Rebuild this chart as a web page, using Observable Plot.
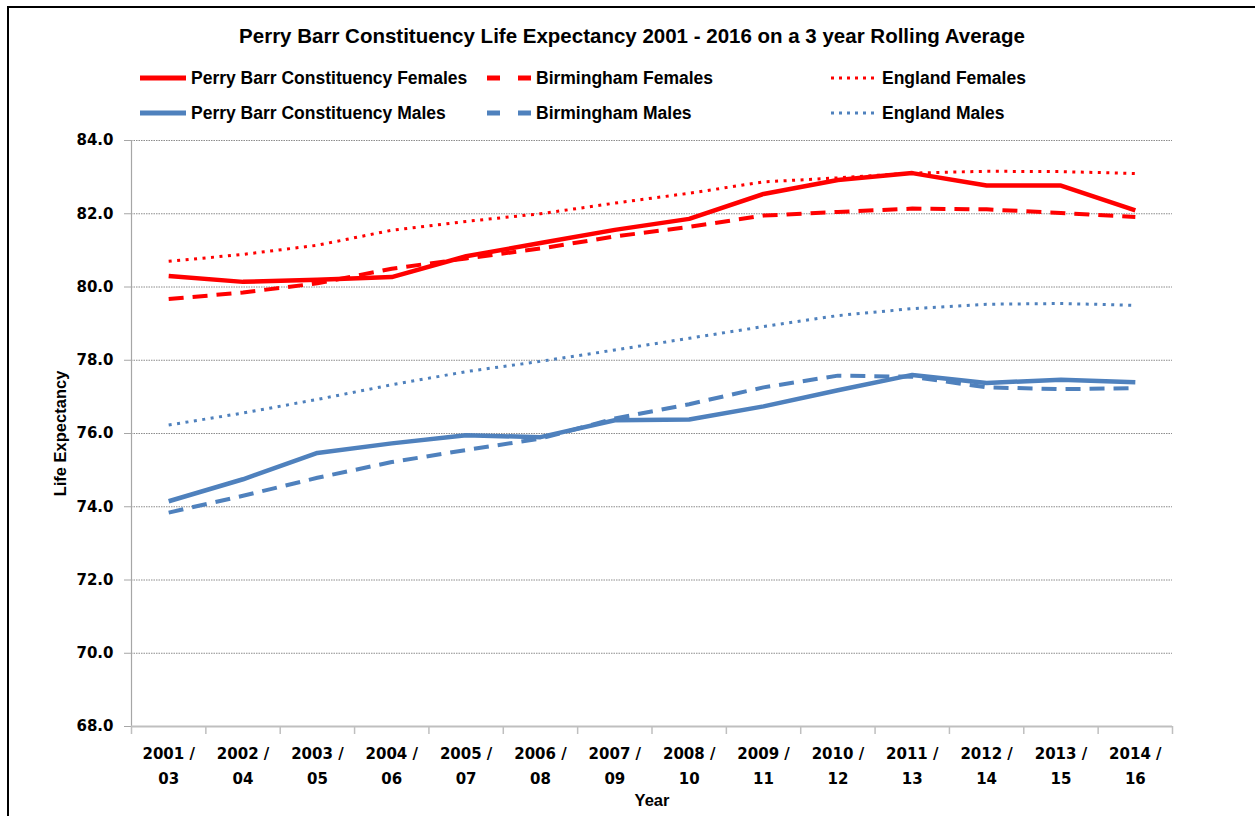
<!DOCTYPE html>
<html>
<head>
<meta charset="utf-8">
<script src="https://cdn.jsdelivr.net/npm/d3@7"></script>
<script src="https://cdn.jsdelivr.net/npm/@observablehq/plot@0.6"></script>
<style>
  html, body { margin: 0; padding: 0; width: 1255px; height: 816px; overflow: hidden; background: #fff; }
  #frame { position: absolute; left: 7px; top: 6px; width: 1300px; height: 900px; border-left: 2px solid #000; border-top: 2px solid #000; }
  #title { position: absolute; left: 0; width: 1264px; top: 24px; text-align: center; font: bold 20.5px "Liberation Sans", Arial, sans-serif; color: #000; }
  .leg { position: absolute; display: flex; align-items: center; font: bold 17.5px "Liberation Sans", Arial, sans-serif; color: #000; white-space: nowrap; }
  .leg svg { margin-right: 5px; }
  #chart { position: absolute; left: 0; top: 118px; }
</style>
</head>
<body>
<div id="frame"></div>
<div id="title">Perry Barr Constituency Life Expectancy 2001 - 2016 on a 3 year Rolling Average</div>
<div id="legend"></div>
<div id="chart"></div>
<script>
// ---- Data ----
const periods = ["2001 / 03","2002 / 04","2003 / 05","2004 / 06","2005 / 07","2006 / 08","2007 / 09",
                 "2008 / 10","2009 / 11","2010 / 12","2011 / 13","2012 / 14","2013 / 15","2014 / 16"];
const perryBarrFemales  = [80.30, 80.14, 80.20, 80.27, 80.84, 81.20, 81.56, 81.86, 82.54, 82.92, 83.11, 82.77, 82.77, 82.09];
const birminghamFemales = [79.67, 79.85, 80.10, 80.50, 80.78, 81.05, 81.38, 81.64, 81.95, 82.05, 82.14, 82.12, 82.02, 81.91];
const englandFemales    = [80.70, 80.89, 81.14, 81.55, 81.79, 82.00, 82.29, 82.56, 82.87, 82.98, 83.11, 83.16, 83.15, 83.10];
const perryBarrMales    = [74.15, 74.75, 75.47, 75.73, 75.95, 75.90, 76.36, 76.38, 76.74, 77.18, 77.60, 77.38, 77.47, 77.40];
const birminghamMales   = [73.84, 74.30, 74.79, 75.22, 75.55, 75.86, 76.41, 76.80, 77.26, 77.58, 77.55, 77.26, 77.21, 77.24];
const englandMales      = [76.23, 76.56, 76.93, 77.33, 77.69, 77.97, 78.28, 78.60, 78.92, 79.22, 79.41, 79.53, 79.55, 79.50];
const yTicks = [68, 70, 72, 74, 76, 78, 80, 82, 84];

const RED = "#FF0000", BLUE = "#4F81BD";
const SOLID = null, DASH = "15,9", DOT = "3,5.5";

const seriesList = [
  {name: "Perry Barr Constituency Females", values: perryBarrFemales, color: RED, dash: SOLID, w: 4.5},
  {name: "Birmingham Females", values: birminghamFemales, color: RED, dash: DASH, w: 4},
  {name: "England Females", values: englandFemales, color: RED, dash: DOT, w: 3},
  {name: "Perry Barr Constituency Males", values: perryBarrMales, color: BLUE, dash: SOLID, w: 4.5},
  {name: "Birmingham Males", values: birminghamMales, color: BLUE, dash: DASH, w: 4},
  {name: "England Males", values: englandMales, color: BLUE, dash: DOT, w: 3}
];

// ---- Legend (HTML) ----
const legendPos = [
  [140, 78], [487, 78], [831, 78],
  [140, 113], [487, 113], [831, 113]
];
const legend = document.getElementById("legend");
seriesList.forEach((s, k) => {
  const div = document.createElement("div");
  div.className = "leg";
  div.style.left = legendPos[k][0] + "px";
  div.style.top = (legendPos[k][1] - 10) + "px";
  div.style.height = "20px";
  const sw = s.dash === DASH ? 44 : 46;
  const dashAttr = s.dash === DASH ? 'stroke-dasharray="13,18"' : (s.dash === DOT ? 'stroke-dasharray="3,5"' : "");
  div.innerHTML = `<svg width="${sw}" height="20"><line x1="0" x2="${sw}" y1="10" y2="10" stroke="${s.color}" stroke-width="${s.dash === DOT ? 3 : 5}" ${dashAttr}/></svg><span>${s.name}</span>`;
  legend.appendChild(div);
});

// ---- Chart ----
const idx = d3.range(periods.length);
const boundaries = d3.range(-0.5, periods.length, 1);
const FONT = "Liberation Sans, Arial, sans-serif";
const TICKFONT = "DejaVu Sans, Verdana, sans-serif";

const marks = [
  Plot.gridY({ticks: yTicks, stroke: "#7f7f7f", strokeOpacity: 1, strokeDasharray: "1.5,1", strokeWidth: 0.9}),
  Plot.ruleX([-0.5], {stroke: "#a6a6a6", strokeWidth: 1.2, y1: 68, y2: 84}),
  Plot.axisY({ticks: yTicks, tickFormat: d3.format(".1f"), tickSize: 7, tickPadding: 11, stroke: "#a6a6a6", fill: "#000", fontSize: 15, fontWeight: "bold", fontFamily: TICKFONT, label: null}),
  Plot.axisX({ticks: boundaries, tickSize: 8, tickFormat: () => "", stroke: "#bfbfbf", strokeWidth: 1.5, label: null}),
  Plot.axisX({ticks: idx, tickSize: 0, tickPadding: 15, tickFormat: i => periods[i].replace(" / ", " /\n"), lineHeight: 1.65, fill: "#000", fontSize: 15, fontWeight: "bold", fontFamily: TICKFONT, label: null}),
  Plot.ruleY([68], {stroke: "#bfbfbf", strokeWidth: 2}),
  Plot.text(["Life Expectancy"], {frameAnchor: "left", textAnchor: "middle", rotate: -90, dx: -71, fontSize: 16.5, fontWeight: "bold", fontFamily: FONT, fill: "#000"}),
  Plot.text(["Year"], {frameAnchor: "bottom", dy: 79, fontSize: 16.5, fontWeight: "bold", fontFamily: FONT, fill: "#000"})
];

seriesList.forEach(s => {
  marks.push(Plot.line(s.values, {
    x: (d, i) => i, y: d => d,
    stroke: s.color, strokeWidth: s.w,
    strokeDasharray: s.dash || undefined,
    strokeLinejoin: "round", strokeLinecap: "butt"
  }));
});

const chart = Plot.plot({
  width: 1200,
  height: 700,
  marginLeft: 131,
  marginRight: 28,
  marginTop: 22,
  marginBottom: 92,
  style: {fontFamily: TICKFONT, fontSize: "15px", color: "#000", background: "transparent", overflow: "visible"},
  x: {type: "linear", domain: [-0.5, periods.length - 0.5], label: null},
  y: {domain: [68, 84], label: null},
  marks
});
document.getElementById("chart").appendChild(chart);
</script>
</body>
</html>
